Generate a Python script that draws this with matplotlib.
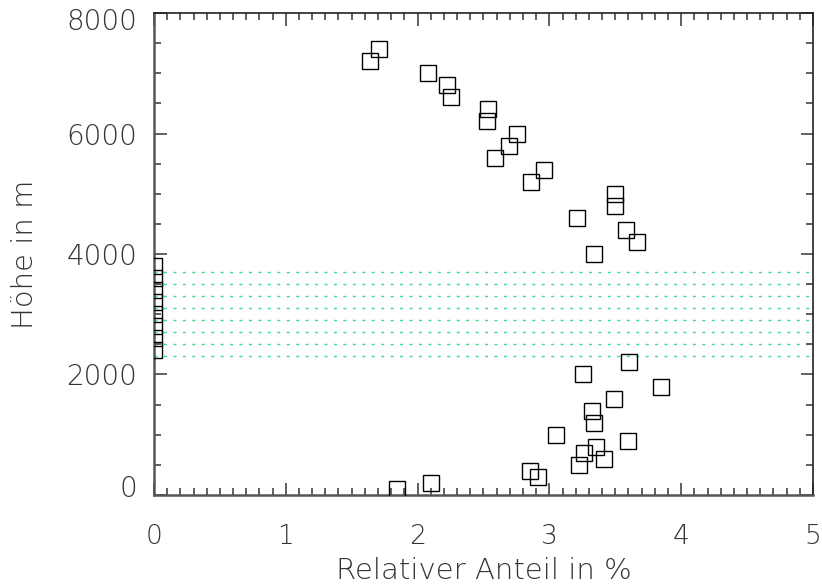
import matplotlib
matplotlib.use("Agg")
import matplotlib.pyplot as plt
import matplotlib.transforms as mtransforms
from matplotlib.ticker import MultipleLocator

plt.rcParams['font.family'] = ['DejaVu Sans']

# Höhenstufen (m) und relativer Anteil (%)
hoehe_unten = [100, 200, 300, 400, 500, 600, 700, 800, 900, 1000,
               1200, 1400, 1600, 1800, 2000, 2200]
anteil_unten = [1.845, 2.104, 2.911, 2.850, 3.225, 3.417, 3.266, 3.357, 3.598, 3.051,
                3.342, 3.325, 3.489, 3.845, 3.256, 3.608]

hoehe_luecke = [2400, 2600, 2800, 3000, 3200, 3400, 3600, 3800]
anteil_luecke = [0, 0, 0, 0, 0, 0, 0, 0]

hoehe_oben = [4000, 4200, 4400, 4600, 4800, 5000, 5200, 5400, 5600, 5800,
              6000, 6200, 6400, 6600, 6800, 7000, 7200, 7400]
anteil_oben = [3.342, 3.666, 3.581, 3.213, 3.498, 3.498, 2.857, 2.960, 2.587, 2.697,
               2.754, 2.524, 2.533, 2.250, 2.224, 2.083, 1.638, 1.709]

# Schichtgrenzen im Bereich ohne Daten
grenzen = [2300, 2500, 2700, 2900, 3100, 3300, 3500, 3700]

xticks = [0, 1, 2, 3, 4, 5]
yticks = [0, 2000, 4000, 6000, 8000]

hoehe = hoehe_unten + hoehe_luecke + hoehe_oben
anteil = anteil_unten + anteil_luecke + anteil_oben

fig = plt.figure(figsize=(8.22, 5.86), dpi=100)
ax = fig.add_axes([0.1873, 0.1553, 0.8017, 0.8225])

for g in grenzen:
    ax.axhline(g, color='#3ddc8c', lw=1.0, dashes=(2.2, 4.6), zorder=1)

ax.plot(anteil, hoehe, ls='none', marker='s', ms=11.2, mfc='none',
        mec='black', mew=1.0, zorder=3)

ax.set_xlim(0, 5)
ax.set_ylim(0, 8000)
ax.set_xticks(xticks)
ax.set_yticks(yticks)
ax.xaxis.set_minor_locator(MultipleLocator(0.1))
ax.yaxis.set_minor_locator(MultipleLocator(500))

ax.tick_params(which='both', direction='in', top=True, right=True,
               color='#444444', width=1.2)
ax.tick_params(which='major', length=9)
ax.tick_params(which='minor', length=5)
ax.tick_params(axis='x', which='major', pad=21, labelsize=19, labelcolor='#333333')
ax.tick_params(axis='y', which='major', pad=12, labelsize=20, labelcolor='#333333')

xlabels = ax.get_xticklabels()
ylabels = ax.get_yticklabels()
for lbl in xlabels + ylabels:
    lbl.set_fontweight('light')

# unterste und oberste Beschriftung der Höhenachse etwas nach innen
ylabels[0].set_transform(ylabels[0].get_transform() +
                         mtransforms.ScaledTranslation(0, 0.09, fig.dpi_scale_trans))
ylabels[-1].set_transform(ylabels[-1].get_transform() +
                          mtransforms.ScaledTranslation(0, -0.06, fig.dpi_scale_trans))

for side in ['left', 'bottom']:
    ax.spines[side].set_color('#555555')
    ax.spines[side].set_linewidth(1.8)
for side in ['top', 'right']:
    ax.spines[side].set_color('#222222')
    ax.spines[side].set_linewidth(1.2)

ax.set_xlabel('Relativer Anteil in %', fontsize=21, fontweight='light',
              color='#333333', labelpad=6)
ax.set_ylabel('Höhe in m', fontsize=21, fontweight='light',
              color='#333333', labelpad=20)

fig.savefig('out.png', dpi=100)
